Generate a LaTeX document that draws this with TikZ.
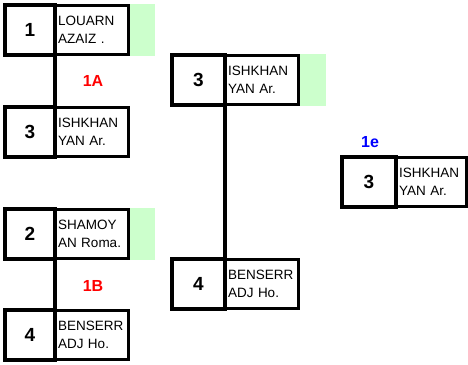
\documentclass[tikz,border=0pt]{standalone}
\usepackage{fontspec}
\setmainfont{Liberation Sans}
\definecolor{hl}{RGB}{204,255,204}
\definecolor{lblred}{RGB}{255,0,0}
\definecolor{lblblue}{RGB}{0,0,255}
\tikzset{
 seedbox/.style={draw, line width=4pt, minimum width=50pt, minimum height=50pt, inner sep=0pt,
   outer sep=0pt, font=\fontsize{19}{19}\selectfont\bfseries, anchor=north west},
 namebox/.style={draw, line width=3pt, text width=67pt, minimum height=49pt, inner xsep=3pt,
   inner ysep=0pt, outer sep=0pt, align=left, font=\fontsize{13.5}{18}\selectfont, anchor=west},
 link/.style={line width=4pt},
 rlabel/.style={font=\fontsize{16}{16}\selectfont\bfseries, text=lblred},
 blabel/.style={font=\fontsize{16}{16}\selectfont\bfseries, text=lblblue},
}
% #1 id, #2 x, #3 y, #4 seed width, #5 name text width, #6 seed, #7 name
\newcommand{\entrybox}[7]{%
  \node[seedbox, minimum width=#4] (#1s) at (#2+2,-#3-2) {#6};
  \node[namebox, text width=#5] (#1n) at (#1s.east) {#7};
}
\newcommand{\greenflag}[1]{%
  \fill[hl] ([xshift=1.5pt,yshift=1.5pt]#1.north east) rectangle ([xshift=27pt,yshift=-1.5pt]#1.south east);
}
\begin{document}
\begin{tikzpicture}[x=1pt,y=1pt]
\useasboundingbox (0,0) rectangle (468,-364);
\fill[white] (0,0) rectangle (468,-364);
% round 1
\entrybox{a1}{3}{3}{50pt}{67pt}{1}{LOUARN\\AZAIZ .}
\entrybox{a2}{3}{105}{50pt}{67pt}{3}{ISHKHAN\\YAN Ar.}
\entrybox{b1}{3}{207}{50pt}{67pt}{2}{SHAMOY\\AN Roma.}
\entrybox{b2}{3}{308}{50pt}{67pt}{4}{BENSERR\\ADJ Ho.}
% round 2
\entrybox{c1}{170}{53}{53pt}{67.5pt}{3}{ISHKHAN\\YAN Ar.}
\entrybox{c2}{170}{257}{53pt}{67.5pt}{4}{BENSERR\\ADJ Ho.}
% final
\entrybox{f}{340}{155}{54pt}{64.5pt}{3}{ISHKHAN\\YAN Ar.}
% highlights
\greenflag{a1n}
\greenflag{b1n}
\greenflag{c1n}
% connectors
\draw[link] (a1s.south east) -- (a2s.north east);
\draw[link] (b1s.south east) -- (b2s.north east);
\draw[link] (c1s.south east) -- (c2s.north east);
% labels
\node[rlabel] (l1a) at (93,-81) {1A};
\node[rlabel] (l1b) at (93,-286) {1B};
\node[blabel] (l1e) at (370,-142) {1e};
\end{tikzpicture}
\end{document}
